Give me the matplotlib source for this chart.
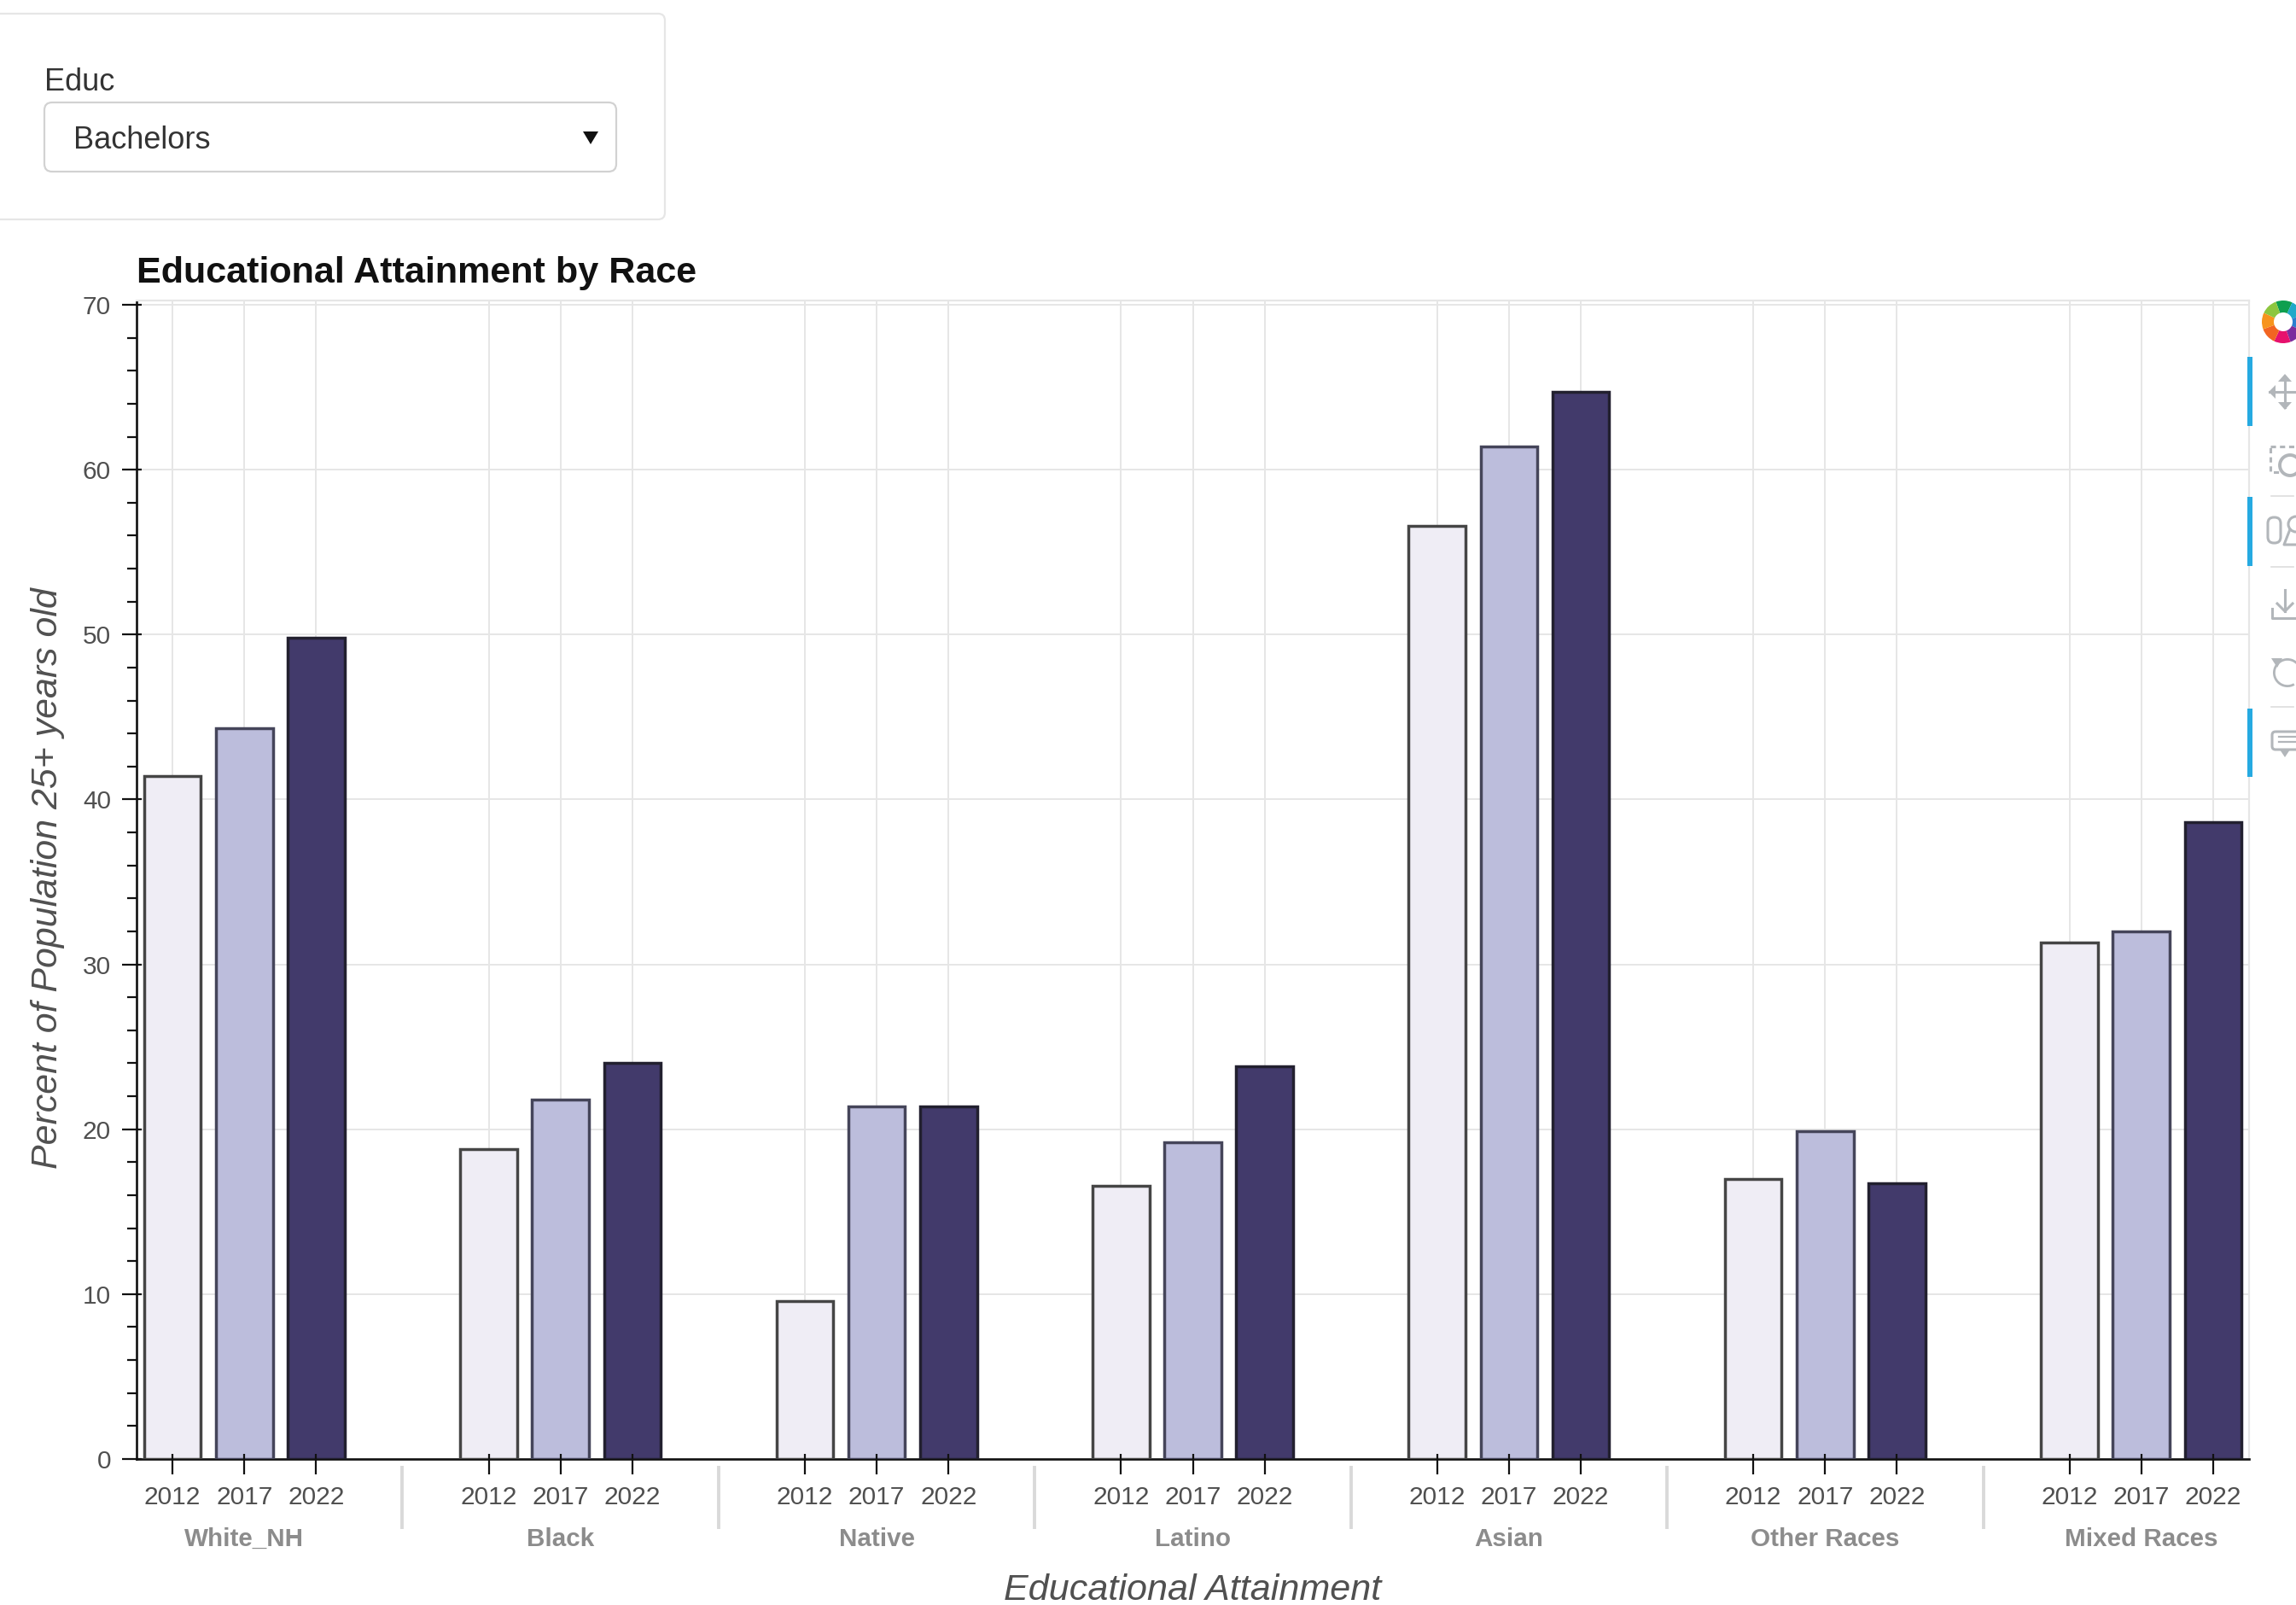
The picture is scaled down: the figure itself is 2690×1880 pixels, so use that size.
import matplotlib
matplotlib.use("Agg")
import matplotlib.pyplot as plt
from matplotlib.patches import FancyBboxPatch, Polygon, Wedge, Circle, Rectangle
from matplotlib.transforms import blended_transform_factory

races = ["White_NH", "Black", "Native", "Latino", "Asian", "Other Races", "Mixed Races"]
years = ["2012", "2017", "2022"]
v2012 = [41.4, 18.8, 9.6, 16.55, 56.6, 17.0, 31.3]
v2017 = [44.3, 21.8, 21.4, 19.2, 61.4, 19.9, 32.0]
v2022 = [49.8, 24.0, 21.4, 23.8, 64.7, 16.7, 38.6]
series = [v2012, v2017, v2022]
fills = ["#efedf5", "#bcbddc", "#423a6b"]
edges = ["#454545", "#45455a", "#22202f"]
group_step = 4.4

W, H = 2690, 1880
plt.rcParams["font.family"] = ["Liberation Sans", "DejaVu Sans"]
fig = plt.figure(figsize=(W / 100, H / 100), dpi=100, facecolor="white")
L, R, T, B = 160, 2635, 352, 1709
ax = fig.add_axes([L / W, 1 - B / H, (R - L) / W, (B - T) / H])

# pixel-space overlay for page furniture
ov = fig.add_axes([0, 0, 1, 1], zorder=5)
ov.set_xlim(0, W)
ov.set_ylim(H, 0)
ov.axis("off")
ov.patch.set_alpha(0)

xticks, xlabels = [], []
for j, (vals, fc, ec) in enumerate(zip(series, fills, edges)):
    xs = [i * group_step + j for i in range(len(races))]
    ax.bar(xs, vals, width=0.79, color=fc, edgecolor=ec, linewidth=2.5, zorder=3)
    xticks += xs
    xlabels += [years[j]] * len(races)

ax.set_xlim(-0.5, (len(races) - 1) * group_step + 2.5)
ax.set_ylim(0, 70.26)
ax.set_yticks(range(0, 71, 10))
ax.set_yticks(range(0, 71, 2), minor=True)
ax.set_xticks(xticks)
ax.set_xticklabels([])
ax.set_yticklabels([])
ax.grid(True, which="major", color="#e6e6e6", linewidth=1.4, zorder=0)
ax.set_axisbelow(True)
for s in ("top", "right"):
    ax.spines[s].set_color("#e6e6e6")
    ax.spines[s].set_linewidth(1.6)
for s in ("left", "bottom"):
    ax.spines[s].set_color("#111111")
    ax.spines[s].set_linewidth(1.9)
ax.tick_params(axis="x", which="major", length=13, width=1.6, color="#111111")
ax.tick_params(axis="y", which="major", length=12, width=1.6, color="#111111")
ax.tick_params(axis="y", which="minor", length=8, width=1.6, color="#111111")

tx = blended_transform_factory(ax.transData, ov.transData)
ty = blended_transform_factory(ov.transData, ax.transData)
# inward part of the major ticks
ov.vlines(xticks, B - 6, B, transform=tx, color="#111111", linewidth=1.6, zorder=6)
ov.hlines(range(0, 71, 10), L, L + 6, transform=ty, color="#111111", linewidth=1.6, zorder=6)

# tick labels
for x, lab in zip(xticks, xlabels):
    ov.text(x, 1754, lab, transform=tx, ha="center", va="center", fontsize=21.5, color="#4f4f4f")
for y in range(0, 71, 10):
    ov.text(130, y, str(y), transform=ty, ha="right", va="center_baseline", fontsize=21.5, color="#4f4f4f")
for i, r in enumerate(races):
    ov.text(i * group_step + 1, 1803, r, transform=tx, ha="center", va="center",
            fontsize=21.3, fontweight="bold", color="#8c8c8c")
    if i:
        ov.vlines((i - 0.5) * group_step + 1, 1717, 1791, transform=tx, color="#d9d9d9", linewidth=2.8)

ov.text(160, 320, "Educational Attainment by Race", ha="left", va="center",
        fontsize=31.1, fontweight="bold", color="#111111")
ov.text((L + R) / 2, 1863, "Educational Attainment", ha="center", va="center",
        fontsize=31.1, fontstyle="italic", color="#505050")
ov.text(56, (T + B) / 2 - 2, "Percent of Population 25+ years old", rotation=90, ha="center", va="center",
        fontsize=30.9, fontstyle="italic", color="#505050")

# widget card
ov.add_patch(FancyBboxPatch((-20, 16), 799, 241, boxstyle="round,pad=0,rounding_size=8",
                            fc="white", ec="#e6e6e6", lw=1.6))
ov.add_patch(FancyBboxPatch((52, 120), 670, 81, boxstyle="round,pad=0,rounding_size=9",
                            fc="white", ec="#d2d2d2", lw=1.6))
ov.text(52, 96, "Educ", ha="left", va="center", fontsize=26, color="#333333")
ov.text(86, 164, "Bachelors", ha="left", va="center", fontsize=26, color="#333333")
ov.add_patch(Polygon([[683, 154], [701, 154], [692, 169]], closed=True, fc="#111111", ec="none"))

# toolbar
for y0, y1 in [(418, 499), (582, 663), (830, 910)]:
    ov.add_patch(Rectangle((2633, y0), 6, y1 - y0, fc="#26aae1", ec="none"))
for y in (581, 664, 828):
    ov.plot([2661, 2687], [y, y], color="#dddddd", lw=1.2)

logo = ["#0e9f4f", "#20a9c9", "#2a7fd0", "#7b2d9e", "#e6116d", "#f26522", "#f7941d", "#8dc63f"]
for k, c in enumerate(logo):
    a = -110 + k * 45
    ov.add_patch(Wedge((2675, 377), 25, a, a + 45, width=14, fc=c, ec="none"))

gray = "#b2b6ba"
lw = 2.2
# pan
ov.plot([2659, 2690], [459, 459], color=gray, lw=lw)
ov.plot([2677, 2677], [441, 477], color=gray, lw=lw)
for pts in ([[2669, 447], [2677, 438], [2685, 447]], [[2669, 471], [2677, 480], [2685, 471]],
            [[2666, 451], [2658, 459], [2666, 467]]):
    ov.add_patch(Polygon(pts, closed=True, fc=gray, ec="none"))
# box zoom
ov.add_patch(Rectangle((2660, 523), 36, 30, fc="none", ec=gray, lw=lw, ls=(0, (2, 1.5))))
ov.add_patch(Circle((2683, 545), 12, fc="white", ec=gray, lw=lw + 0.6))
# wheel zoom
ov.add_patch(FancyBboxPatch((2657, 606), 15, 30, boxstyle="round,pad=0,rounding_size=7", fc="none", ec=gray, lw=lw))
ov.add_patch(Circle((2690, 614), 9, fc="none", ec=gray, lw=lw))
ov.plot([2683, 2676, 2690], [620, 638, 638], color=gray, lw=lw)
# save
ov.plot([2677, 2677], [691, 716], color=gray, lw=lw)
ov.plot([2668, 2677, 2686], [707, 716, 707], color=gray, lw=lw)
ov.plot([2662, 2662, 2692], [713, 724, 724], color=gray, lw=lw)
# reset
ov.add_patch(Wedge((2680, 788), 17, 60, 340, width=2.8, fc=gray, ec="none"))
ov.add_patch(Polygon([[2661, 771], [2674, 771], [2668, 782]], closed=True, fc=gray, ec="none"))
# help
ov.add_patch(FancyBboxPatch((2662, 857), 40, 21, boxstyle="round,pad=0,rounding_size=4", fc="none", ec=gray, lw=lw))
ov.plot([2670, 2690], [863, 863], color=gray, lw=1.6)
ov.plot([2670, 2690], [869, 869], color=gray, lw=1.6)
ov.add_patch(Polygon([[2671, 878], [2683, 878], [2677, 887]], closed=True, fc=gray, ec="none"))

fig.savefig("out.png", dpi=100, facecolor="white")
